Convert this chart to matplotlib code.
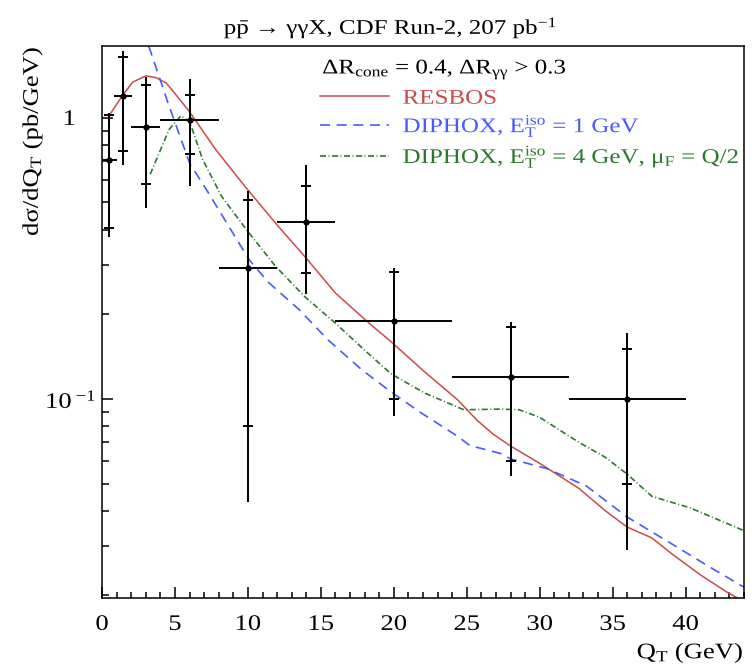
import matplotlib
matplotlib.use('Agg')
from matplotlib import pyplot as plt
from matplotlib.patheffects import AbstractPathEffect
from matplotlib.transforms import Affine2D
from matplotlib.ticker import LogLocator, MultipleLocator, NullFormatter
import numpy as np

plt.rcParams['font.family'] = ['Liberation Serif', 'DejaVu Serif']
plt.rcParams['mathtext.fontset'] = 'custom'
plt.rcParams['mathtext.rm'] = 'Liberation Serif'
plt.rcParams['mathtext.it'] = 'Liberation Serif:italic'

# CDF Run-2 diphoton QT spectrum: bin centre, half width, value,
# inner (stat) and outer (total) errors
qt = np.array([0.5, 1.45, 3.0, 6.0, 10.0, 14.0, 20.0, 28.0, 36.0])
qt_half = np.array([0.5, 0.6, 1.0, 2.0, 2.0, 2.0, 4.0, 4.0, 4.0])
xsec = np.array([0.71, 1.20, 0.93, 0.98, 0.293, 0.425, 0.19, 0.12, 0.10])
stat_hi = np.array([1.025, 1.65, 1.31, 1.21, 0.509, 0.574, 0.283, 0.18, 0.151])
stat_lo = np.array([0.407, 0.76, 0.582, 0.744, 0.080, 0.281, 0.100, 0.060, 0.0497])
tot_hi = np.array([1.04, 1.73, 1.40, 1.38, 0.548, 0.68, 0.293, 0.188, 0.172])
tot_lo = np.array([0.378, 0.68, 0.478, 0.57, 0.043, 0.236, 0.087, 0.053, 0.029])

# theory curves
resbos_x = [0.6, 1.4, 2.1, 3.0, 3.7, 4.4, 5.0, 6.0, 7.8, 9.8, 12.1, 13.9, 16.0,
            18.2, 19.8, 22.1, 24.4, 25.7, 26.8, 28.0, 30.0, 32.7, 34.5, 36.0,
            37.7, 39.1, 41.0, 42.8, 44.0]
resbos_y = [1.04, 1.20, 1.34, 1.41, 1.39, 1.33, 1.22, 1.05, 0.77, 0.57, 0.41,
            0.321, 0.238, 0.188, 0.160, 0.125, 0.099, 0.084, 0.075, 0.068,
            0.059, 0.048, 0.040, 0.035, 0.032, 0.028, 0.0237, 0.0206, 0.0190]

diphox1_x = [3.2, 4.6, 6.0, 7.3, 8.7, 10.1, 11.4, 13.5, 15.5, 17.8, 19.8,
             21.9, 24.4, 25.2, 27.3, 28.0, 30.5, 33.2, 36.0, 39.1, 41.4, 44.0]
diphox1_y = [1.8, 1.10, 0.69, 0.54, 0.41, 0.312, 0.260, 0.208, 0.162, 0.127,
             0.106, 0.089, 0.0735, 0.0683, 0.064, 0.0612, 0.0565, 0.049,
             0.038, 0.0304, 0.0257, 0.0214]

diphox4_x = [3.3, 4.6, 5.4, 6.0, 6.9, 8.2, 9.9, 11.9, 13.9, 16.0, 18.0, 19.8,
             22.1, 24.8, 27.3, 28.6, 30.0, 32.7, 34.5, 36.0, 37.7, 40.3, 44.0]
diphox4_y = [0.63, 0.91, 1.016, 0.97, 0.71, 0.525, 0.40, 0.296, 0.231, 0.186,
             0.149, 0.123, 0.105, 0.0915, 0.092, 0.0915, 0.086, 0.070, 0.062,
             0.054, 0.045, 0.041, 0.034]


class Stretch(AbstractPathEffect):
    '''Widen text glyphs horizontally about a fixed anchor.'''

    def __init__(self, sx, anchor='center'):
        super().__init__()
        self.sx = sx
        self.anchor = anchor

    def draw_path(self, renderer, gc, tpath, affine, rgbFace=None):
        ext = tpath.get_extents()
        x0 = {'left': 0.0, 'center': 0.5 * (ext.x0 + ext.x1),
              'right': ext.x1}[self.anchor]
        t = Affine2D().translate(-x0, 0).scale(self.sx, 1).translate(x0, 0)
        renderer.draw_path(gc, tpath, t + affine, rgbFace)


SX = 1.2

fig = plt.figure(figsize=(7.56, 6.68), dpi=100)
ax = fig.add_axes([0.135, 0.105, 0.849, 0.826])

ax.plot(resbos_x, resbos_y, color='#cc4a4a', lw=1.1, label='RESBOS')
ax.plot(diphox1_x, diphox1_y, color='#4a5aff', lw=1.2, ls=(0, (6, 4)),
        label=r'DIPHOX, E$_{\mathrm{T}}^{\mathrm{iso}}$ = 1 GeV')
ax.plot(diphox4_x, diphox4_y, color='#2a7a2a', lw=1.2,
        ls=(0, (3.6, 1.5, 0.6, 1.5)),
        label=r'DIPHOX, E$_{\mathrm{T}}^{\mathrm{iso}}$ = 4 GeV, '
              r'μ$_{\mathrm{F}}$ = Q/2')

# total error: full bar, no caps; stat error: caps only
ax.errorbar(qt, xsec, xerr=qt_half, yerr=[xsec - tot_lo, tot_hi - xsec],
            fmt='o', color='black', ms=3.5, lw=1.4, capsize=0, zorder=5)
ax.errorbar(qt, xsec, yerr=[xsec - stat_lo, stat_hi - xsec], fmt='none',
            ecolor='black', elinewidth=1.4, capsize=3.5, capthick=1.4,
            zorder=5)

ax.set_yscale('log')
ax.set_xlim(0, 44)
ax.set_ylim(0.0196, 1.8)

ax.xaxis.set_major_locator(MultipleLocator(5))
ax.xaxis.set_minor_locator(MultipleLocator(1))
ax.yaxis.set_minor_locator(LogLocator(base=10, subs=np.arange(2, 10)))
ax.yaxis.set_minor_formatter(NullFormatter())
ax.set_yticks([0.1, 1])
ax.set_yticklabels([r'10$^{\;\mathregular{-1}}$', '1'])

ax.tick_params(which='both', direction='in', top=False, right=False,
               width=1.1, labelsize=16)
ax.tick_params(axis='x', which='major', length=7.7, pad=13)
ax.tick_params(axis='x', which='minor', length=4)
ax.tick_params(axis='y', which='major', length=7.9)
ax.tick_params(axis='y', which='minor', length=5)
for sp in ax.spines.values():
    sp.set_linewidth(1.1)

yt = ax.yaxis.get_major_ticks()
yt[0].set_pad(4)
yt[1].set_pad(19)
for tk in yt:
    tk.label1.set_path_effects([Stretch(SX, 'right')])
for tk in ax.xaxis.get_major_ticks():
    tk.label1.set_path_effects([Stretch(SX, 'center')])

xl = ax.set_xlabel(r'Q$_{\mathrm{T}}$ (GeV)', fontsize=16, loc='right',
                   labelpad=5)
xl.set_path_effects([Stretch(SX, 'right')])
yl = ax.set_ylabel(r'dσ/dQ$_{\mathrm{T}}$ (pb/GeV)', fontsize=16, loc='top',
                   labelpad=6)
yl.set_path_effects([Stretch(SX, 'right')])

ttl = ax.text(0.45, 1.022, r'p$\mathregular{\bar{p}}$ → γγX, CDF Run-2, '
              r'207 pb$^{\mathregular{-1}}$', transform=ax.transAxes,
              fontsize=15, ha='center', va='baseline')
ttl.set_path_effects([Stretch(SX, 'center')])

hdr = ax.text(0.343, 0.957, r'ΔR$_{\mathrm{cone}}$ = 0.4, '
              r'ΔR$_{\mathrm{γγ}}$ > 0.3', transform=ax.transAxes,
              fontsize=15, va='center', ha='left')
hdr.set_path_effects([Stretch(SX, 'left')])
leg = ax.legend(loc='upper left', bbox_to_anchor=(0.34, 0.922),
                frameon=False, fontsize=15, handlelength=3.3,
                handletextpad=0.65, labelspacing=0.2, borderpad=0,
                borderaxespad=0, labelcolor='linecolor')
for txt in leg.get_texts():
    txt.set_path_effects([Stretch(SX, 'left')])

fig.savefig('out.png', dpi=100)
plt.close(fig)
